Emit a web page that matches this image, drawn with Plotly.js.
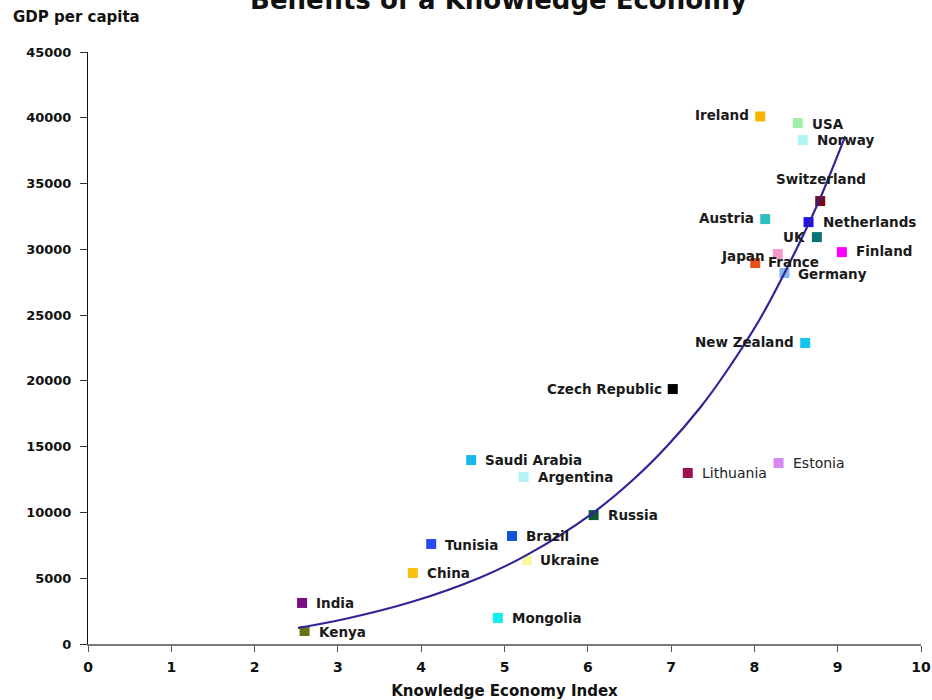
<!DOCTYPE html>
<html>
<head>
<meta charset="utf-8">
<script src="https://cdn.plot.ly/plotly-3.0.1.min.js"></script>
<style>
  html, body { margin: 0; padding: 0; background: #fff; }
  #chart { width: 932px; height: 700px; }
</style>
</head>
<body>
<div id="chart"></div>
<script>
// Countries: Knowledge Economy Index vs GDP per capita
const countries = ["Ireland", "USA", "Norway", "Switzerland", "Austria", "Netherlands", "UK",
  "Finland", "France", "Japan", "Germany", "New Zealand", "Czech Republic", "Lithuania",
  "Estonia", "Saudi Arabia", "Argentina", "Russia", "Brazil", "Tunisia", "Ukraine", "China",
  "India", "Mongolia", "Kenya"];
const kei = [8.07, 8.52, 8.58, 8.79, 8.13, 8.65, 8.75, 9.05, 8.28, 8.01, 8.36, 8.61, 7.02, 7.20,
  8.29, 4.60, 5.23, 6.07, 5.09, 4.12, 5.27, 3.90, 2.57, 4.92, 2.60];
const gdp = [40100, 39600, 38300, 33670, 32300, 32070, 30930, 29790, 29640, 28960, 28200, 22880,
  19380, 13000, 13760, 13980, 12690, 9800, 8210, 7600, 6380, 5400, 3120, 1980, 990];

// Fitted trend line, sampled along its drawn path
const trendX = [2.52, 3.11, 3.90, 4.71, 5.27, 6.06, 6.54, 6.95, 7.35, 7.67, 8.07, 8.34, 8.63,
  8.79, 9.09];
const trendY = [1216, 1938, 3230, 5062, 6772, 9956, 12464, 15033, 17974, 20771, 24746, 27930,
  31662, 33888, 38585];

const xTicks = [0, 1, 2, 3, 4, 5, 6, 7, 8, 9, 10];
const yTicks = [0, 5000, 10000, 15000, 20000, 25000, 30000, 35000, 40000, 45000];

// Marker colour per country
const markerColors = {
  "Ireland": "#f7b500", "USA": "#a2eea6", "Norway": "#b0f4f4", "Switzerland": "#7a0a14",
  "Austria": "#2cc0c0", "Netherlands": "#1c10f0", "UK": "#0a7474", "Finland": "#ff00ff",
  "France": "#f59ac8", "Japan": "#e8501a", "Germany": "#8ab6f0", "New Zealand": "#12c4f0",
  "Czech Republic": "#000000", "Lithuania": "#9a1450", "Estonia": "#d888f0",
  "Saudi Arabia": "#18b8ec", "Argentina": "#b4f2f4", "Russia": "#0e5a36", "Brazil": "#1056d8",
  "Tunisia": "#2f48f5", "Ukraine": "#fafaa0", "China": "#f8c010", "India": "#7c0c80",
  "Mongolia": "#10eeee", "Kenya": "#6e7010"
};

// Label placement: [anchor side, x offset px, y offset px, bold]
const labelPlace = {
  "Ireland": ["right", -9, 1, true], "USA": ["left", 12, -1, true],
  "Norway": ["left", 12, 0, true], "Switzerland": ["center", 1, 22, true],
  "Austria": ["right", -9, 1, true], "Netherlands": ["left", 12, 0, true],
  "UK": ["right", -10, 0, true], "Finland": ["left", 12, 1, true],
  "France": ["left", -12, -8, true], "Japan": ["right", 12, 7, true],
  "Germany": ["left", 12, -1, true], "New Zealand": ["right", -9, 1, true],
  "Czech Republic": ["right", -9, 0, true], "Lithuania": ["left", 12, 0, false],
  "Estonia": ["left", 12, 0, false], "Saudi Arabia": ["left", 12, 0, true],
  "Argentina": ["left", 12, 0, true], "Russia": ["left", 12, 0, true],
  "Brazil": ["left", 12, 0, true], "Tunisia": ["left", 12, -1, true],
  "Ukraine": ["left", 11, 0, true], "China": ["left", 12, 0, true],
  "India": ["left", 12, 0, true], "Mongolia": ["left", 12, 0, true],
  "Kenya": ["left", 12, -1, true]
};

const FONT = "DejaVu Sans, Arial, sans-serif";

const points = {
  type: "scatter",
  mode: "markers",
  x: kei,
  y: gdp,
  text: countries,
  hoverinfo: "text",
  marker: {
    symbol: "square",
    size: 10,
    color: countries.map(c => markerColors[c]),
    line: { width: 0 }
  },
  showlegend: false
};

const trend = {
  type: "scatter",
  mode: "lines",
  x: trendX,
  y: trendY,
  line: { color: "#2f2596", width: 2.2, shape: "spline", smoothing: 1 },
  hoverinfo: "skip",
  showlegend: false
};

const labelAnnotations = countries.map((c, i) => {
  const p = labelPlace[c];
  return {
    x: kei[i], y: gdp[i], xref: "x", yref: "y",
    text: c, showarrow: false,
    xanchor: p[0], yanchor: "middle",
    xshift: p[1], yshift: p[2],
    font: { family: FONT, size: p[3] ? 13.5 : 14, color: p[3] ? "#1a1a1a" : "#222",
            weight: p[3] ? "bold" : "normal" }
  };
});

const layout = {
  width: 932,
  height: 700,
  margin: { l: 88, r: 11, t: 52, b: 56, pad: 0 },
  paper_bgcolor: "#ffffff",
  plot_bgcolor: "#ffffff",
  title: {
    text: "Benefits of a Knowledge Economy",
    font: { family: FONT, size: 26, color: "#111", weight: "bold" },
    x: 0.535, xanchor: "center",
    y: 1, yref: "container", yanchor: "middle"
  },
  xaxis: {
    range: [0, 10],
    tickvals: xTicks,
    ticktext: xTicks.map(String),
    showgrid: false, zeroline: false,
    showline: true, linecolor: "#7a7a7a", linewidth: 2,
    ticks: "outside", ticklen: 6, tickcolor: "#555", tickwidth: 1,
    ticklabelstandoff: 3,
    tickfont: { family: FONT, size: 14, color: "#111", weight: "bold" },
    title: {
      text: "Knowledge Economy Index",
      font: { family: FONT, size: 15, color: "#111", weight: "bold" },
      standoff: 13
    },
    fixedrange: true
  },
  yaxis: {
    range: [0, 45000],
    tickvals: yTicks,
    ticktext: yTicks.map(String),
    showgrid: false, zeroline: false,
    showline: true, linecolor: "#111", linewidth: 1,
    ticks: "outside", ticklen: 7, tickcolor: "#333", tickwidth: 1,
    ticklabelstandoff: 6,
    tickfont: { family: FONT, size: 13, color: "#111", weight: "bold" },
    fixedrange: true
  },
  annotations: [
    {
      text: "GDP per capita", showarrow: false,
      xref: "paper", yref: "paper", x: 0, y: 1,
      xanchor: "left", yanchor: "middle", xshift: -77, yshift: 35,
      font: { family: FONT, size: 15, color: "#111", weight: "bold" }
    }
  ].concat(labelAnnotations)
};

Plotly.newPlot("chart", [points, trend], layout, { displayModeBar: false, staticPlot: true });
</script>
</body>
</html>
